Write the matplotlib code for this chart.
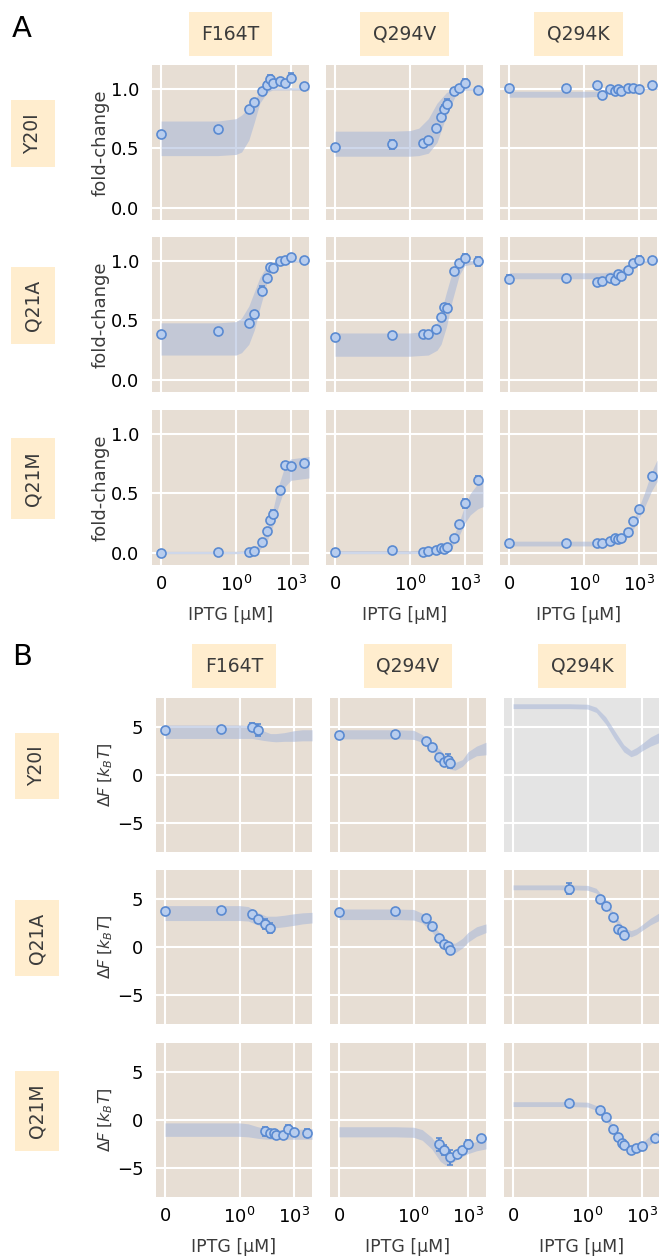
import numpy as np
import matplotlib
matplotlib.use('Agg')
import matplotlib.pyplot as plt
from matplotlib.ticker import NullLocator

# ---- data ----
rows = ['Y20I', 'Q21A', 'Q21M']
cols = ['F164T', 'Q294V', 'Q294K']
iptg = [0, 0.1, 5, 10, 25, 50, 75, 100, 250, 500, 1000, 5000]

# panel A: fold-change, ordered (row, col)
fc_mean = [
    [0.62, 0.66, 0.83, 0.89, 0.98, 1.035, 1.08, 1.045, 1.07, 1.05, 1.095, 1.025],
    [0.51, 0.535, 0.55, 0.57, 0.67, 0.765, 0.835, 0.875, 0.98, 1.01, 1.05, 0.99],
    [1.01, 1.01, 1.035, 0.95, 0.995, 0.98, 0.995, 0.98, 1.01, 1.01, 1.0, 1.03],
    [0.39, 0.41, 0.48, 0.555, 0.75, 0.857, 0.945, 0.94, 1.0, 1.01, 1.03, 1.01],
    [0.36, 0.38, 0.39, 0.39, 0.43, 0.53, 0.615, 0.605, 0.917, 0.98, 1.025, 0.995],
    [0.85, 0.86, 0.82, 0.835, 0.86, 0.84, 0.89, 0.875, 0.92, 0.98, 1.01, 1.005],
    [0.0, 0.01, 0.01, 0.02, 0.09, 0.185, 0.275, 0.33, 0.525, 0.735, 0.73, 0.755],
    [0.005, 0.025, 0.01, 0.015, 0.03, 0.04, 0.035, 0.05, 0.127, 0.24, 0.417, 0.615],
    [0.083, 0.085, 0.083, 0.085, 0.10, 0.127, 0.12, 0.13, 0.177, 0.27, 0.373, 0.646],
]
fc_err = [
    [0.03, 0.015, 0.015, 0.015, 0.02, 0.02, 0.04, 0.02, 0.015, 0.015, 0.04, 0.015],
    [0.03, 0.04, 0.015, 0.015, 0.02, 0.015, 0.03, 0.04, 0.015, 0.015, 0.03, 0.02],
    [0.02, 0.025, 0.025, 0.015, 0.01, 0.01, 0.01, 0.01, 0.01, 0.01, 0.01, 0.01],
    [0.015, 0.01, 0.01, 0.015, 0.04, 0.015, 0.015, 0.03, 0.01, 0.01, 0.015, 0.015],
    [0.015, 0.01, 0.01, 0.01, 0.015, 0.015, 0.02, 0.03, 0.015, 0.03, 0.03, 0.04],
    [0.03, 0.02, 0.01, 0.01, 0.015, 0.01, 0.015, 0.015, 0.015, 0.015, 0.03, 0.01],
    [0.025, 0.01, 0.01, 0.01, 0.01, 0.01, 0.02, 0.03, 0.03, 0.025, 0.02, 0.025],
    [0.03, 0.01, 0.01, 0.01, 0.01, 0.01, 0.01, 0.01, 0.01, 0.015, 0.04, 0.03],
    [0.03, 0.01, 0.01, 0.01, 0.01, 0.01, 0.01, 0.01, 0.01, 0.01, 0.01, 0.025],
]
fc_band_c = [
    [0, 0.1, 1, 2, 5, 10, 20, 50, 100, 1000, 1e4],
    [0, 0.1, 1, 3, 10, 30, 100, 300, 1000, 1e4],
    [0, 0.1, 1, 5, 10, 30, 100, 1000, 1e4],
    [0, 0.1, 1, 2, 5, 10, 20, 50, 100, 300, 1000, 1e4],
    [0, 0.1, 1, 10, 30, 50, 100, 200, 500, 1000, 1e4],
    [0, 0.1, 1, 10, 50, 100, 300, 1000, 3000, 1e4],
    [0, 0.1, 1, 5, 10, 20, 50, 100, 200, 500, 1000, 1e4],
    [0, 0.1, 1, 10, 50, 100, 200, 500, 1000, 2000, 5000, 1e4],
    [0, 0.1, 1, 10, 50, 100, 200, 500, 1000, 2000, 5000, 1e4],
]
fc_band_hi = [
    [0.73, 0.73, 0.75, 0.78, 0.84, 0.91, 0.97, 1.0, 1.01, 1.01, 1.01],
    [0.645, 0.645, 0.65, 0.67, 0.75, 0.88, 0.97, 1.0, 1.01, 1.01],
    [0.98, 0.98, 0.98, 0.98, 0.99, 1.0, 1.005, 1.005, 1.005],
    [0.48, 0.48, 0.49, 0.52, 0.62, 0.74, 0.86, 0.96, 0.99, 1.0, 1.01, 1.01],
    [0.395, 0.395, 0.395, 0.41, 0.48, 0.57, 0.74, 0.90, 0.98, 1.0, 1.01],
    [0.90, 0.90, 0.90, 0.90, 0.91, 0.93, 0.97, 1.0, 1.01, 1.01],
    [0.015, 0.015, 0.015, 0.02, 0.04, 0.08, 0.2, 0.35, 0.55, 0.74, 0.79, 0.81],
    [0.02, 0.02, 0.02, 0.025, 0.04, 0.06, 0.11, 0.26, 0.40, 0.50, 0.58, 0.61],
    [0.10, 0.10, 0.10, 0.10, 0.11, 0.13, 0.17, 0.27, 0.38, 0.50, 0.68, 0.78],
]
fc_band_lo = [
    [0.44, 0.44, 0.45, 0.47, 0.57, 0.72, 0.88, 0.97, 0.99, 0.99, 0.99],
    [0.435, 0.435, 0.435, 0.44, 0.46, 0.55, 0.78, 0.94, 0.99, 0.99],
    [0.93, 0.93, 0.93, 0.935, 0.95, 0.98, 0.995, 0.995, 0.995],
    [0.21, 0.21, 0.21, 0.23, 0.30, 0.42, 0.60, 0.82, 0.93, 0.98, 0.99, 0.99],
    [0.20, 0.20, 0.20, 0.21, 0.25, 0.30, 0.45, 0.66, 0.88, 0.96, 0.99],
    [0.85, 0.85, 0.85, 0.85, 0.86, 0.87, 0.91, 0.97, 0.99, 0.99],
    [-0.005, -0.005, -0.005, 0.0, 0.01, 0.03, 0.1, 0.22, 0.38, 0.56, 0.61, 0.63],
    [-0.005, -0.005, -0.005, 0.0, 0.01, 0.02, 0.05, 0.15, 0.25, 0.32, 0.37, 0.39],
    [0.06, 0.06, 0.06, 0.06, 0.07, 0.09, 0.12, 0.20, 0.29, 0.38, 0.52, 0.60],
]

# panel B: free energy shift
df_c = [
    [0, 0.1, 5, 10],
    [0, 0.1, 5, 10, 25, 50, 75, 100],
    [],
    [0, 0.1, 5, 10, 25, 50],
    [0, 0.1, 5, 10, 25, 50, 75, 100],
    [0.1, 5, 10, 25, 50, 75, 100],
    [25, 50, 75, 100, 250, 500, 1000, 5000],
    [25, 50, 100, 250, 500, 1000, 5000],
    [0.1, 5, 10, 25, 50, 75, 100, 250, 500, 1000, 5000],
]
df_mean = [
    [4.64, 4.78, 5.0, 4.68],
    [4.17, 4.27, 3.58, 2.87, 1.87, 1.4, 1.53, 1.23],
    [],
    [3.79, 3.89, 3.41, 2.86, 2.38, 1.96],
    [3.62, 3.72, 3.0, 2.17, 0.93, 0.34, 0.1, -0.31],
    [6.06, 5.03, 4.3, 3.1, 1.86, 1.65, 1.2],
    [-1.19, -1.33, -1.4, -1.54, -1.6, -0.96, -1.23, -1.37],
    [-2.54, -3.1, -3.87, -3.5, -3.1, -2.5, -1.9],
    [1.77, 1.02, 0.27, -0.98, -1.76, -2.34, -2.64, -3.12, -2.95, -2.7, -1.83],
]
df_err = [
    [0.15, 0.15, 0.4, 0.6],
    [0.15, 0.3, 0.15, 0.15, 0.15, 0.2, 0.6, 0.5],
    [],
    [0.1, 0.1, 0.1, 0.1, 0.5, 0.5],
    [0.1, 0.1, 0.1, 0.1, 0.1, 0.1, 0.1, 0.15],
    [0.6, 0.15, 0.15, 0.15, 0.15, 0.3, 0.3],
    [0.5, 0.2, 0.2, 0.2, 0.15, 0.4, 0.2, 0.4],
    [0.7, 0.5, 0.8, 0.2, 0.2, 0.4, 0.25],
    [0.15, 0.2, 0.2, 0.15, 0.15, 0.15, 0.15, 0.15, 0.15, 0.15, 0.15],
]
df_band_c = [
    [0, 0.1, 1, 5, 20, 50, 100, 300, 1000, 3000, 1e4],
    [0, 0.1, 1, 3, 10, 30, 100, 200, 500, 1000, 3000, 1e4],
    [0, 0.1, 1, 3, 10, 30, 100, 250, 500, 1000, 3000, 1e4],
    [0, 0.1, 1, 3, 10, 30, 100, 300, 1000, 3000, 1e4],
    [0, 0.1, 1, 3, 10, 30, 100, 200, 500, 1000, 3000, 1e4],
    [0, 0.1, 1, 3, 10, 30, 100, 250, 500, 1000, 3000, 1e4],
    [0, 0.1, 1, 3, 10, 30, 100, 1000, 1e4],
    [0, 0.1, 1, 3, 10, 30, 60, 100, 300, 1000, 3000, 1e4],
    [0, 0.1, 1, 3, 10, 30, 100, 300, 1000, 3000, 1e4],
]
df_band_hi = [
    [5.2, 5.2, 5.2, 5.1, 4.6, 4.3, 4.3, 4.4, 4.6, 4.7, 4.7],
    [4.7, 4.7, 4.65, 4.2, 3.4, 2.6, 1.5, 1.3, 1.6, 2.4, 3.0, 3.4],
    [7.4, 7.4, 7.35, 7.05, 6.05, 4.65, 3.15, 2.55, 2.85, 3.25, 3.95, 4.45],
    [4.3, 4.3, 4.3, 4.2, 3.6, 3.2, 3.2, 3.3, 3.45, 3.55, 3.6],
    [3.95, 3.95, 3.9, 3.5, 2.5, 1.4, 0.4, 0.4, 0.9, 1.5, 2.1, 2.4],
    [6.45, 6.45, 6.4, 6.1, 4.9, 3.4, 2.0, 1.7, 1.9, 2.3, 3.0, 3.6],
    [-0.3, -0.3, -0.3, -0.4, -0.7, -0.9, -1.0, -1.0, -0.9],
    [-0.7, -0.7, -0.75, -1.0, -1.8, -3.0, -3.5, -3.5, -3.1, -2.6, -2.2, -1.9],
    [1.9, 1.9, 1.85, 1.5, 0.6, -0.7, -2.2, -2.8, -2.4, -1.6, -0.9],
]
df_band_lo = [
    [3.8, 3.8, 3.8, 3.8, 3.6, 3.5, 3.45, 3.5, 3.5, 3.55, 3.55],
    [3.75, 3.75, 3.7, 3.4, 2.5, 1.8, 0.6, 0.5, 0.9, 1.5, 2.0, 2.1],
    [6.9, 6.9, 6.85, 6.5, 5.3, 3.8, 2.4, 1.9, 2.1, 2.5, 3.0, 3.4],
    [2.75, 2.75, 2.75, 2.7, 2.3, 2.0, 2.0, 2.1, 2.25, 2.4, 2.5],
    [2.85, 2.85, 2.8, 2.5, 1.6, 0.4, -0.6, -0.6, -0.1, 0.5, 1.1, 1.5],
    [5.95, 5.95, 5.9, 5.6, 4.3, 2.8, 1.4, 1.05, 1.3, 1.7, 2.3, 2.8],
    [-1.7, -1.7, -1.7, -1.75, -1.9, -2.0, -2.0, -2.0, -2.0],
    [-1.75, -1.75, -1.8, -2.1, -3.0, -4.3, -4.7, -4.6, -4.0, -3.5, -3.2, -3.0],
    [1.4, 1.4, 1.35, 1.0, 0.0, -1.3, -2.8, -3.5, -3.2, -2.5, -1.9],
]

# ---- style ----
bg = '#E7DED4'
bg_empty = '#E4E4E4'
band_color = '#a6b6d9'
face = '#b8cdee'
edge = '#5a8ad1'
box_color = '#FFEDCE'
txt_color = '#3b3b3b'

W, H = 659, 1260
fig = plt.figure(figsize=(W / 100, H / 100), dpi=100)


def add_panel(left, top, w, h):
    return fig.add_axes([left / W, 1 - (top + h) / H, w / W, h / H])


def style(ax, facecolor):
    ax.set_facecolor(facecolor)
    for s in ax.spines.values():
        s.set_visible(False)
    ax.set_xscale('symlog', linthresh=1e-3, linscale=1)
    ax.set_xlim(-4.5e-4, 1e4)
    ax.set_xticks([0, 1, 1000])
    ax.set_xticklabels(['0', r'$10^0$', r'$10^3$'])
    ax.xaxis.set_minor_locator(NullLocator())
    ax.grid(True, color='white', lw=1.5)
    ax.set_axisbelow(True)
    ax.tick_params(length=0, labelsize=13)
    ax.tick_params(axis='x', pad=7)
    ax.tick_params(axis='y', pad=9)


def label_box(x, y, s, rot=0):
    fig.text(x / W, 1 - y / H, s, ha='center', va='center', rotation=rot,
             fontsize=13.5, color=txt_color,
             bbox=dict(boxstyle='square,pad=0.68', fc=box_color, ec='none'))


sections = [
    dict(lefts=[152, 326, 500], tops=[65, 237, 410], w=157, h=155,
         row_x=33, col_y=34, letter=(12, 37), name='A'),
    dict(lefts=[156, 330, 504], tops=[698, 870, 1043], w=156, h=154,
         row_x=37, col_y=666, letter=(12, 665), name='B'),
]

for si, sec in enumerate(sections):
    fig.text(sec['letter'][0] / W, 1 - sec['letter'][1] / H, sec['name'],
             fontsize=21, ha='left', va='baseline')
    for j in range(3):
        label_box(sec['lefts'][j] + sec['w'] / 2, sec['col_y'], cols[j])
    for i in range(3):
        label_box(sec['row_x'], sec['tops'][i] + sec['h'] / 2 - 9, rows[i], rot=90)
        for j in range(3):
            k = 3 * i + j
            ax = add_panel(sec['lefts'][j], sec['tops'][i], sec['w'], sec['h'])
            if si == 0:
                style(ax, bg)
                ax.fill_between(fc_band_c[k], fc_band_lo[k], fc_band_hi[k],
                                color=band_color, alpha=0.55, lw=0, zorder=2)
                ax.errorbar(iptg, fc_mean[k], yerr=fc_err[k], fmt='o', ms=6.5,
                            mfc=face, mec=edge, mew=1.2, ecolor=edge,
                            elinewidth=1.4, capsize=2.5, capthick=1.4, zorder=3)
                ax.set_ylim(-0.1, 1.2)
                ax.set_yticks([0, 0.5, 1.0])
                ax.set_yticklabels(['0.0', '0.5', '1.0'])
                ylab = 'fold-change'
                ysize = 13
            else:
                style(ax, bg_empty if k == 2 else bg)
                ax.fill_between(df_band_c[k], df_band_lo[k], df_band_hi[k],
                                color=band_color, alpha=0.55, lw=0, zorder=2)
                if len(df_c[k]) > 0:
                    ax.errorbar(df_c[k], df_mean[k], yerr=df_err[k], fmt='o', ms=6.5,
                                mfc=face, mec=edge, mew=1.2, ecolor=edge,
                                elinewidth=1.4, capsize=2.5, capthick=1.4, zorder=3)
                ax.set_ylim(-8, 8)
                ax.set_yticks([-5, 0, 5])
                ylab = r'$\Delta F\;[k_BT]$'
                ysize = 11.5
            if j == 0:
                ax.set_ylabel(ylab, fontsize=ysize, color=txt_color, labelpad=1)
            else:
                ax.set_yticklabels([])
            if i == 2:
                ax.set_xlabel('IPTG [µM]', fontsize=12.5, color=txt_color, labelpad=8)
            else:
                ax.set_xticklabels([])

fig.savefig('out.png', dpi=100)
